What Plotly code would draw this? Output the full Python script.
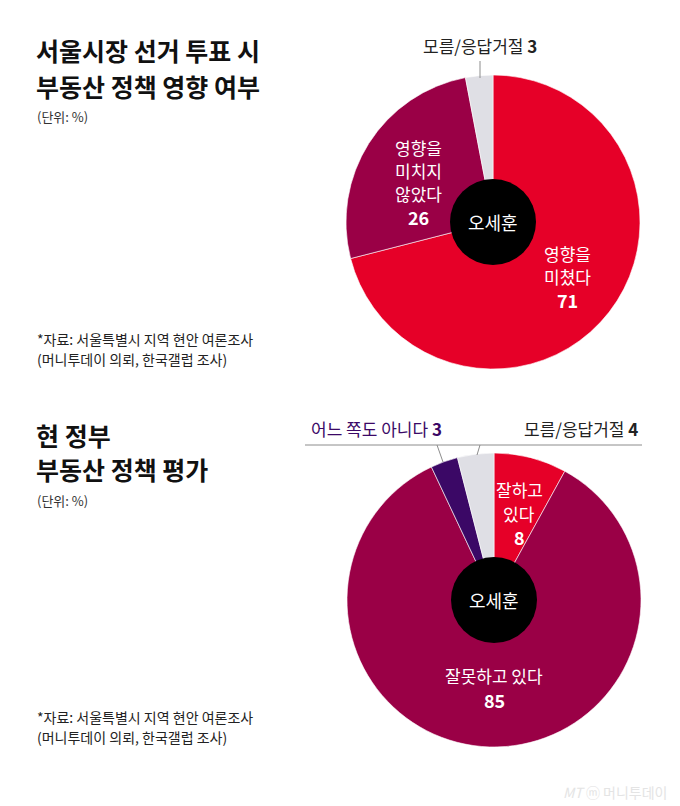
import plotly.graph_objects as go

W, H = 680, 806

# Data
pie1_labels = ["영향을 미쳤다", "영향을 미치지 않았다", "모름/응답거절"]
pie1_values = [71, 26, 3]
pie1_colors = ["#E60028", "#9A0046", "#DFDFE5"]

pie2_labels = ["잘하고 있다", "잘못하고 있다", "어느 쪽도 아니다", "모름/응답거절"]
pie2_values = [8, 85, 3, 4]
pie2_colors = ["#E60028", "#9A0046", "#3B0866", "#DFDFE5"]

FONT = "Noto Sans CJK KR"


def px(x, y):
    return x / W, 1 - y / H


def dom(cx, cy, r):
    x0, y1 = px(cx - r, cy - r)
    x1, y0 = px(cx + r, cy + r)
    return dict(x=[x0, x1], y=[y0, y1])


fig = go.Figure()
C1 = (493, 222)
C2 = (494, 600)
R = 147

for (labels, values, colors, c) in [
    (pie1_labels, pie1_values, pie1_colors, C1),
    (pie2_labels, pie2_values, pie2_colors, C2),
]:
    fig.add_trace(go.Pie(
        labels=labels, values=values, sort=False, direction="clockwise",
        rotation=0, marker=dict(colors=colors, line=dict(color="white", width=0.6)),
        textinfo="none", hoverinfo="label+value", showlegend=False,
        domain=dom(c[0], c[1], R),
    ))

shapes = []
annotations = []


def text(x, y, s, size=14, color="#222", bold=False, xanchor="left", yanchor="middle"):
    xx, yy = px(x, y)
    if bold:
        s = "<b>" + s + "</b>"
    annotations.append(dict(x=xx, y=yy, xref="paper", yref="paper", text=s, showarrow=False,
                            xanchor=xanchor, yanchor=yanchor, align="center", borderpad=0,
                            font=dict(family=FONT, size=size, color=color)))


def line(x0, y0, x1, y1, color="#8c8c8c", width=1):
    a, b = px(x0, y0)
    c, d = px(x1, y1)
    shapes.append(dict(type="line", xref="paper", yref="paper", x0=a, y0=b, x1=c, y1=d,
                       line=dict(color=color, width=width)))


def hole(c, r=43):
    a, b = px(c[0] - r, c[1] + r)
    cc, d = px(c[0] + r, c[1] - r)
    shapes.append(dict(type="circle", xref="paper", yref="paper", x0=a, y0=b, x1=cc, y1=d,
                       fillcolor="#000000", line=dict(color="#000000", width=0), layer="above"))


hole(C1)
hole(C2)

# Titles
text(35, 50, "서울시장 선거 투표 시", size=25, color="#111", bold=True)
text(35, 86, "부동산 정책 영향 여부", size=25, color="#111", bold=True)
text(36, 117, "(단위: %)", size=13, color="#333")
text(36, 339, "*자료: 서울특별시 지역 현안 여론조사", size=14, color="#222")
text(36, 359, "(머니투데이 의뢰, 한국갤럽 조사)", size=14, color="#222")

text(35, 435, "현 정부", size=25, color="#111", bold=True)
text(35, 469, "부동산 정책 평가", size=25, color="#111", bold=True)
text(36, 500, "(단위: %)", size=13, color="#333")
text(36, 717, "*자료: 서울특별시 지역 현안 여론조사", size=14, color="#222")
text(36, 737, "(머니투데이 의뢰, 한국갤럽 조사)", size=14, color="#222")

# Pie 1 labels
text(480, 46, f"모름/응답거절 <b>{pie1_values[2]}</b>", size=17, color="#222", xanchor="center")
line(480, 61, 480, 78)
for i, s in enumerate(["영향을", "미치지", "않았다"]):
    text(418, 148 + i * 23, s, size=17, color="white", xanchor="center")
text(418, 217, str(pie1_values[1]), size=18, color="white", bold=True, xanchor="center")
for i, s in enumerate(["영향을", "미쳤다"]):
    text(567, 253 + i * 23, s, size=17, color="white", xanchor="center")
text(567, 300, str(pie1_values[0]), size=18, color="white", bold=True, xanchor="center")
text(493, 222, "오세훈", size=18, color="white", xanchor="center")

# Pie 2 labels
text(376, 428, f"어느 쪽도 아니다 <b>{pie2_values[2]}</b>", size=17, color="#3B0866", xanchor="center")
text(581, 428, f"모름/응답거절 <b>{pie2_values[3]}</b>", size=17, color="#222", xanchor="center")
line(305, 445, 642, 445)
line(437, 445, 443, 462)
line(480, 445, 477, 455)
for i, s in enumerate(["잘하고", "있다"]):
    text(519, 489 + i * 24, s, size=17, color="white", xanchor="center")
text(519, 537, str(pie2_values[0]), size=18, color="white", bold=True, xanchor="center")
text(494, 675, "잘못하고 있다", size=17, color="white", xanchor="center")
text(494, 700, str(pie2_values[1]), size=18, color="white", bold=True, xanchor="center")
text(494, 600, "오세훈", size=18, color="white", xanchor="center")

# watermark
text(668, 792, "<i>MT</i> ⓜ 머니투데이", size=14, color="#e4e4e4", xanchor="right")

fig.update_layout(
    width=W, height=H, margin=dict(l=0, r=0, t=0, b=0),
    paper_bgcolor="white", plot_bgcolor="white",
    shapes=shapes, annotations=annotations,
    font=dict(family=FONT),
)

fig.write_html("out.html")
